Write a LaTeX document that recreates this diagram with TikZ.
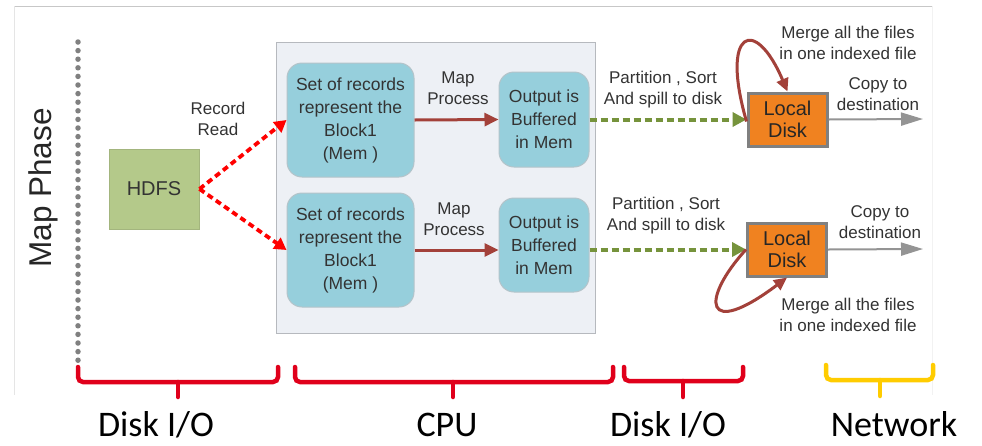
\documentclass[tikz,border=0pt]{standalone}
\usepackage{fontspec}
\setmainfont{Liberation Sans}
\newfontfamily\labelfont{Carlito}
\usetikzlibrary{arrows.meta}
\definecolor{boxblue}{HTML}{96CFDC}
\definecolor{boxline}{HTML}{B4C4CA}
\definecolor{panelfill}{HTML}{EDF0F5}
\definecolor{panelline}{HTML}{B6B9BE}
\definecolor{hdfsgreen}{HTML}{B4C98A}
\definecolor{hdfsline}{HTML}{A3B57E}
\definecolor{diskorange}{HTML}{F08220}
\definecolor{diskline}{HTML}{808080}
\definecolor{maparrow}{HTML}{A3413A}
\definecolor{spillgreen}{HTML}{76933C}
\definecolor{copygray}{HTML}{949494}
\definecolor{txt}{HTML}{333333}
\definecolor{bracered}{HTML}{E0001B}
\definecolor{braceyellow}{HTML}{FFCC00}
\tikzset{
  x=1pt, y=-1pt,
  lbl/.style={align=center, text=txt, font=\fontsize{17}{21}\selectfont, inner sep=0pt},
  memblock/.style={draw=boxline, line width=1pt, fill=boxblue, rounded corners=15pt,
    align=center, text=txt, font=\fontsize{17.5}{23}\selectfont, inner sep=0pt},
  diskbox/.style={draw=diskline, line width=3pt, fill=diskorange, align=center,
    text=black!85, font=\fontsize{20}{22.5}\selectfont, inner sep=0pt,
    minimum width=79pt, minimum height=53pt},
  readarrow/.style={draw=red, line width=3.8pt, dash pattern=on 6pt off 4pt,
    -{Triangle[length=12pt,width=13pt]}},
  maparr/.style={draw=maparrow, line width=3pt, -{Triangle[length=14pt,width=13pt]}},
  spillarr/.style={draw=spillgreen, line width=4pt, dash pattern=on 7pt off 4pt,
    -{Triangle[length=14pt,width=14pt]}},
  copyarr/.style={draw=copygray, line width=2pt, -{Triangle[length=22pt,width=13pt]}},
  mergearr/.style={draw=maparrow, line width=3pt, -{Triangle[length=13pt,width=12pt]}},
  bracepath/.style={line width=4.5pt, rounded corners=5pt, line cap=round},
  phaselabel/.style={font=\labelfont\fontsize{36}{36}\selectfont, text=black,
    inner sep=0pt, anchor=base}
}
\begin{document}
\begin{tikzpicture}
\useasboundingbox (0,0) rectangle (982,445);
\fill[white] (0,0) rectangle (982,445);
% frame of the figure
\draw[draw=black!22, line width=1pt] (14,6) -- (932,6);
\draw[draw=black!10, line width=0.8pt] (14,6) -- (14,395);
\draw[draw=black!5, line width=0.8pt] (932,6) -- (932,395);

% phase title and separator
\node[rotate=90, font=\fontsize{31.5}{31.5}\selectfont, text=black!85, inner sep=0pt] (phase) at (43,188) {Map Phase};
\draw[draw=black!50, line width=5.5pt, line cap=round, dash pattern=on 0pt off 8.6pt] (78,42) -- (78,365);

% CPU panel
\node[draw=panelline, fill=panelfill, line width=1pt, minimum width=319pt, minimum height=291pt, inner sep=0pt] (panel) at (435.5,187.5) {};

% nodes
\node[draw=hdfsline, fill=hdfsgreen, line width=1pt, minimum width=90pt, minimum height=80pt,
  text=txt, font=\fontsize{20}{20}\selectfont, inner sep=0pt] (hdfs) at (154,189) {HDFS};
\node[memblock, minimum width=127pt, minimum height=114pt] (b1) at (350.5,120) {Set of records\\represent the\\Block1\\(Mem )};
\node[memblock, minimum width=127pt, minimum height=114pt] (b2) at (350.5,250) {Set of records\\represent the\\Block1\\(Mem )};
\node[memblock, minimum width=90pt, minimum height=95pt] (o1) at (544,119.5) {Output is\\Buffered\\in Mem};
\node[memblock, minimum width=90pt, minimum height=94pt] (o2) at (544,245) {Output is\\Buffered\\in Mem};
\node[diskbox] (ld1) at (787.5,119.5) {Local\\Disk};
\node[diskbox] (ld2) at (787,249.5) {Local\\Disk};
\coordinate (dst1) at (923,119);
\coordinate (dst2) at (923,249);

% labels
\node[lbl] (rr) at (218,119) {Record\\Read};
\node[lbl] (mp1) at (458,88) {Map\\Process};
\node[lbl] (mp2) at (454,219) {Map\\Process};
\node[lbl] (ps1) at (663,90) {Partition , Sort\\And spill to disk};
\node[lbl] (ps2) at (666,216) {Partition , Sort\\And spill to disk};
\node[lbl] (cp1) at (878,94) {Copy to\\destination};
\node[lbl] (cp2) at (880,222.5) {Copy to\\destination};
\node[lbl] (mg1) at (848,43) {Merge all the files\\in one indexed file};
\node[lbl] (mg2) at (848,315) {Merge all the files\\in one indexed file};

% connectors
\draw[readarrow] (hdfs.east) -- (b1.west);
\draw[readarrow] (hdfs.east) -- (b2.west);
\draw[maparr] (b1.east) -- (o1.west);
\draw[maparr] (b2.east) -- (o2.west |- b2.east);
\draw[spillarr] (o1.east) -- (ld1.west);
\draw[spillarr] (o2.east |- ld2.west) -- (ld2.west);
\draw[copyarr] (ld1.east) -- (dst1);
\draw[copyarr] (ld2.east) -- (dst2);
\draw[mergearr] ([yshift=-2pt]ld1.west) .. controls (720,30) and (755,15) .. (ld1.north);
\draw[mergearr] (ld2.west) .. controls (700,300) and (704,340) .. (ld2.south);

% resource braces
\draw[bracered, bracepath] (78,367) |- (178,382) -| (278,367);
\draw[bracered, line width=4.5pt, line cap=round] (178,382) -- (178,397);
\draw[bracered, bracepath] (295,367) |- (453,382) -| (613,367);
\draw[bracered, line width=4.5pt, line cap=round] (453,382) -- (453,397);
\draw[bracered, bracepath] (624,367) |- (683,381) -| (743,367);
\draw[bracered, line width=4.5pt, line cap=round] (683,381) -- (683,397);
\draw[braceyellow, bracepath] (826,365) |- (880,380) -| (933,365);
\draw[braceyellow, line width=4.5pt, line cap=round] (880,380) -- (880,396);

\node[phaselabel] (io1) at (156,436.5) {Disk I/O};
\node[phaselabel] (cpu) at (447,436.5) {CPU};
\node[phaselabel] (io2) at (668,436.5) {Disk I/O};
\node[phaselabel] (net) at (894,436.5) {Network};
\end{tikzpicture}
\end{document}
